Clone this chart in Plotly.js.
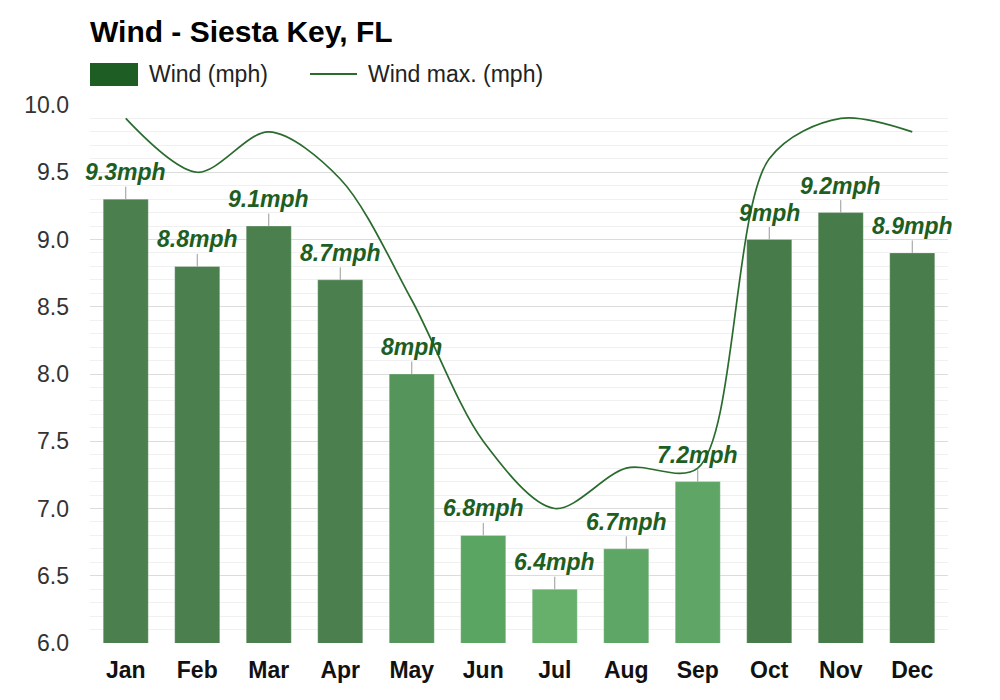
<!DOCTYPE html>
<html>
<head>
<meta charset="utf-8">
<script src="https://cdn.plot.ly/plotly-3.0.1.min.js"></script>
<style>html,body{margin:0;padding:0;background:#fff;}#chart{width:1000px;height:700px;}</style>
</head>
<body>
<div id="chart"></div>
<script>
const months = ["Jan","Feb","Mar","Apr","May","Jun","Jul","Aug","Sep","Oct","Nov","Dec"];
const wind = [9.3, 8.8, 9.1, 8.7, 8.0, 6.8, 6.4, 6.7, 7.2, 9.0, 9.2, 8.9];
const windMax = [9.9, 9.5, 9.8, 9.45, 8.55, 7.5, 7.0, 7.3, 7.3, 9.6, 9.9, 9.8];
const labels = ["9.3mph","8.8mph","9.1mph","8.7mph","8mph","6.8mph","6.4mph","6.7mph","7.2mph","9mph","9.2mph","8.9mph"];
const seriesNames = ["Wind (mph)", "Wind max. (mph)"];
const barColors = ["#4b7f4e","#4b7f4e","#4b7f4e","#4b7f4e","#55955b","#5ba563","#66b06c","#5ea665","#5fa666","#477b4a","#477b4a","#497d4c"];
const lineColor = "#2a6b2e";
const legendBarColor = "#1e5e24";
const labelColor = "#1d5e22";

const font = "Liberation Sans, Arial, sans-serif";
const W = 1000, H = 700, ML = 90, MR = 52, MT = 105, MB = 57;
const PW = W - ML - MR, PH = H - MT - MB;
const px = v => (v - ML) / PW;
const py = v => (H - MB - v) / PH;

const traces = [
  {
    type: "bar", x: months, y: wind, showlegend: false, hoverinfo: "skip",
    width: 0.63,
    marker: {color: barColors, line: {color: "rgba(255,255,255,0.25)", width: 1}}
  },
  {
    type: "scatter", mode: "lines", x: months, y: windMax, showlegend: false,
    line: {color: lineColor, width: 1.7, shape: "spline", smoothing: 0.9},
    hoverinfo: "skip"
  }
];

const annotations = months.map((m, i) => ({
  x: m, y: wind[i], xref: "x", yref: "y",
  text: labels[i], showarrow: true, arrowhead: 0, arrowwidth: 1, arrowcolor: "#999",
  ax: 0, ay: -27, standoff: 0,
  font: {family: font, size: 23, color: labelColor, weight: "bold", style: "italic"}
}));

// manual legend (matching the wide swatches of the reference)
annotations.push(
  {xref: "paper", yref: "paper", x: px(147), y: py(74), xanchor: "left", yanchor: "middle",
   showarrow: false, text: seriesNames[0], font: {family: font, size: 23, color: "#222"}},
  {xref: "paper", yref: "paper", x: px(366), y: py(74), xanchor: "left", yanchor: "middle",
   showarrow: false, text: seriesNames[1], font: {family: font, size: 23, color: "#222"}}
);
const shapes = [
  {type: "rect", xref: "paper", yref: "paper", x0: px(90), x1: px(138), y0: py(86), y1: py(63),
   fillcolor: legendBarColor, line: {width: 0}},
  {type: "line", xref: "paper", yref: "paper", x0: px(310), x1: px(357), y0: py(74), y1: py(74),
   line: {color: lineColor, width: 2}}
];

const layout = {
  width: W, height: H,
  paper_bgcolor: "#fff", plot_bgcolor: "#fff",
  margin: {l: ML, r: MR, t: MT, b: MB},
  title: {text: "<b>Wind - Siesta Key, FL</b>", x: 0.09, xanchor: "left", y: 0.955, yanchor: "middle",
          font: {family: font, size: 30, color: "#000"}},
  showlegend: false,
  barmode: "overlay",
  xaxis: {type: "category", range: [-0.5, months.length - 0.5], autorange: false,
          tickfont: {family: font, size: 23, color: "#111", weight: "bold"},
          showgrid: false, zeroline: false, showline: false, ticks: "", ticklabelstandoff: 11,
          automargin: false, fixedrange: true},
  yaxis: {range: [6.0, 10.0], autorange: false, dtick: 0.5, tick0: 6, tickformat: ".1f",
          tickfont: {family: font, size: 23, color: "#333"},
          gridcolor: "#dcdcdc", gridwidth: 1, zeroline: false, showline: false,
          ticks: "", ticklabelstandoff: 20, automargin: false,
          minor: {dtick: 0.1, showgrid: true, gridcolor: "#f0f0f0", gridwidth: 1}},
  annotations: annotations,
  shapes: shapes
};

Plotly.newPlot("chart", traces, layout, {displayModeBar: false, staticPlot: true});
</script>
</body>
</html>
